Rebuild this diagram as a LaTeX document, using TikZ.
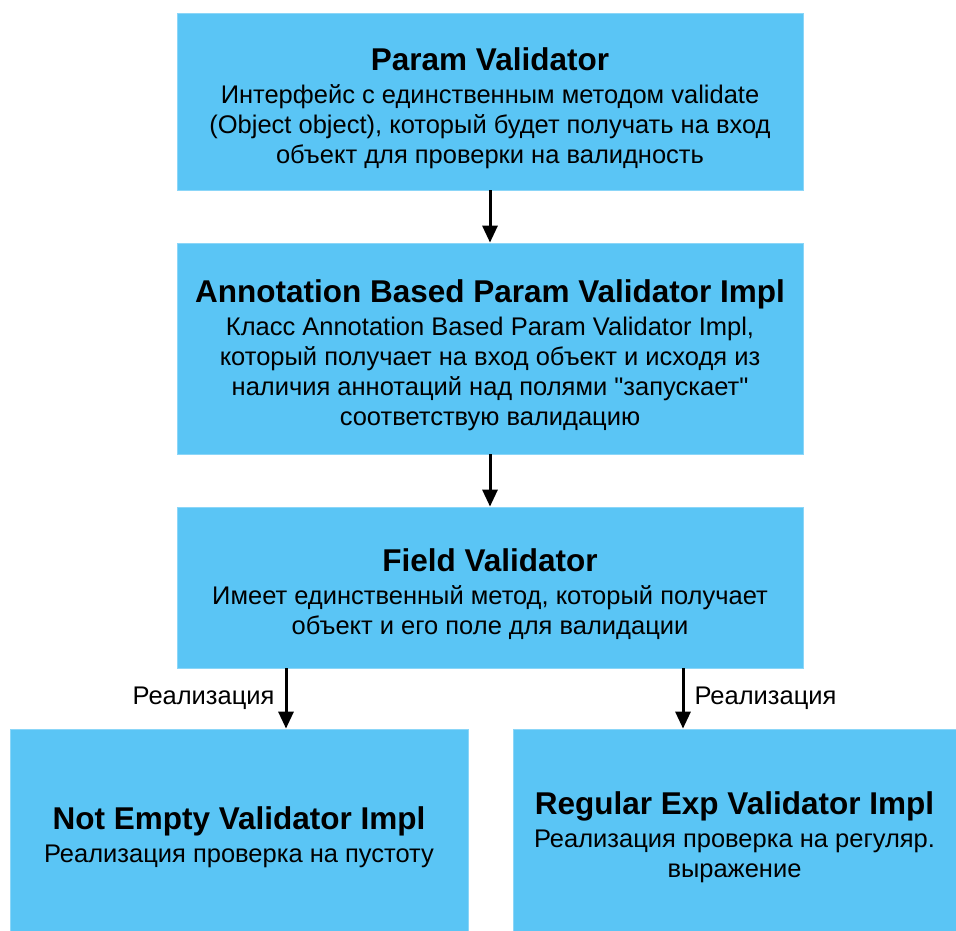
\documentclass[tikz,border=0pt]{standalone}
\usepackage{fontspec}
\setmainfont{Liberation Sans}
\usetikzlibrary{arrows.meta,positioning}

\definecolor{boxblue}{HTML}{5AC5F5}
% optional argument: extra room above the title
\newcommand{\blocktitle}[2][0pt]{{\rule{0pt}{#1}\fontsize{31.5}{35}\selectfont\bfseries #2}\\[3pt]}

\tikzset{
  block/.style={fill=boxblue, draw=boxblue!70!white, line width=0.8pt,
    align=center, inner sep=0pt, font=\fontsize{25.5}{30}\selectfont},
  impllabel/.style={font=\fontsize{25.5}{30}\selectfont, inner sep=10pt},
  link/.style={-{Triangle[length=17pt,width=15pt]}, line width=3pt}
}

\begin{document}
\begin{tikzpicture}[x=1pt, y=-1pt]
\useasboundingbox (0,0) rectangle (956,931);

% main chain
\node[block, minimum width=626pt, minimum height=177pt] (pv) at (490,101.5)
  {\blocktitle[37pt]{Param Validator}
   Интерфейс с единственным методом validate\\
   (Object object), который будет получать на вход\\
   объект для проверки на валидность};
\node[block, minimum width=626pt, minimum height=211pt] (abpv) at (490,348.5)
  {\blocktitle[37pt]{Annotation Based Param Validator Impl}
   Класс Annotation Based Param Validator Impl,\\
   который получает на вход объект и исходя из\\
   наличия аннотаций над полями \textquotedbl запускает\textquotedbl\\
   соответствую валидацию};
\node[block, minimum width=626pt, minimum height=161pt] (fv) at (490,587.5)
  {\blocktitle[37pt]{Field Validator}
   Имеет единственный метод, который получает\\
   объект и его поле для валидации};

% implementations
\node[block, minimum width=458pt, minimum height=216pt] (nev) at (239,837)
  {\blocktitle{Not Empty Validator Impl}
   Реализация проверка на пустоту};
\node[block, minimum width=443pt, minimum height=216pt] (rev) at (734.5,837)
  {\blocktitle{Regular Exp Validator Impl}
   Реализация проверка на регуляр.\\
   выражение};

\coordinate (lx) at (286,0);
\coordinate (rx) at (683,0);

\draw[link] (pv) -- (abpv);
\draw[link] (abpv) -- (fv);
\draw[link] (fv.south -| lx) -- node[impllabel, left] {Реализация} (nev.north -| lx);
\draw[link] (fv.south -| rx) -- node[impllabel, right] {Реализация} (rev.north -| rx);

\end{tikzpicture}
\end{document}
